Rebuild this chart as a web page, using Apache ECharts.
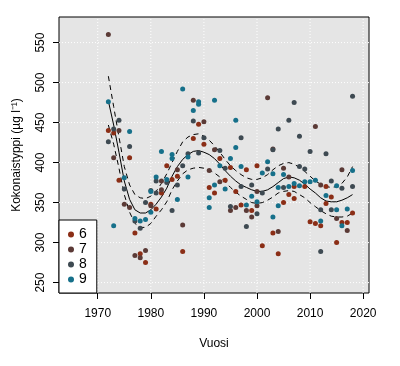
<!DOCTYPE html>
<html>
<head>
<meta charset="utf-8">
<script src="https://cdn.jsdelivr.net/npm/echarts@6/dist/echarts.min.js"></script>
<style>html,body{margin:0;padding:0;background:#fff}#c{width:400px;height:366px}</style>
</head>
<body>
<div id="c"></div>
<script>
// ---- data ----
const xTicks = [1970, 1980, 1990, 2000, 2010, 2020];
const yTicks = [250, 300, 350, 400, 450, 500, 550];

const month6 = [[1972,440],[1973,437],[1974,378],[1976,406],[1977,312],[1978,286],[1979,275],[1980,348],[1981,342],[1982,362],[1983,396],[1984,379],[1985,383],[1986,289],[1988,430],[1989,448],[1990,423],[1991,369],[1992,362],[1993,405],[1994,378],[1995,394],[1996,364],[1997,347],[1998,391],[1999,340],[2000,396],[2001,296],[2003,312],[2004,286],[2005,350],[2006,360],[2007,355],[2007,370],[2009,370],[2010,326],[2011,324],[2012,321],[2013,349],[2013,370],[2014,357],[2015,300],[2016,325],[2017,325],[2018,337]];
const month7 = [[1972,560],[1973,406],[1974,440],[1975,348],[1976,344],[1977,284],[1978,281],[1979,290],[1980,346],[1982,366],[1982,377],[1985,391],[1986,322],[1988,478],[1990,451],[1991,390],[1992,416],[1993,376],[1995,340],[1996,344],[1998,340],[1999,332],[2000,364],[2000,346],[2002,481],[2003,417],[2004,314],[2005,393],[2006,382],[2011,445],[2012,372],[2015,330],[2016,391],[2017,315]];
const month8 = [[1972,426],[1973,442],[1974,453],[1975,367],[1976,420],[1977,327],[1978,318],[1979,350],[1980,365],[1981,362],[1981,377],[1983,375],[1984,340],[1985,372],[1986,396],[1987,411],[1988,452],[1989,412],[1990,431],[1993,415],[1994,393],[1995,345],[1997,431],[1997,370],[1998,320],[1999,372],[2000,336],[2001,362],[2002,392],[2003,416],[2004,442],[2005,369],[2006,453],[2007,475],[2008,433],[2008,395],[2009,392],[2010,414],[2012,341],[2012,289],[2013,411],[2014,377],[2014,341],[2016,368],[2018,483],[2018,370]];
const month9 = [[1972,476],[1973,321],[1975,381],[1976,439],[1977,330],[1978,327],[1979,329],[1980,338],[1980,364],[1981,382],[1982,414],[1983,379],[1984,410],[1984,405],[1985,354],[1986,492],[1987,407],[1987,382],[1988,465],[1989,476],[1989,473],[1991,356],[1991,344],[1992,478],[1992,372],[1993,396],[1994,367],[1995,405],[1996,453],[1996,419],[1997,395],[1998,347],[1999,358],[2000,351],[2001,387],[2002,401],[2003,386],[2003,332],[2004,369],[2004,346],[2005,385],[2006,370],[2007,374],[2008,371],[2009,376],[2010,376],[2011,378],[2012,327],[2013,359],[2015,371],[2015,341],[2016,321],[2017,342],[2018,390]];

const fitYears = [1972,1973,1974,1975,1976,1977,1978,1979,1980,1981,1982,1983,1984,1985,1986,1987,1988,1989,1990,1991,1992,1993,1994,1995,1996,1997,1998,1999,2000,2001,2002,2003,2004,2005,2006,2007,2008,2009,2010,2011,2012,2013,2014,2015,2016,2017,2018];
const fitMid   = [477,447,413,377,354,341,337,337,341,348,357,368,383,395,404,410,414,415,413,410,405,398,390,383,377,372,369,366,364,364,366,370,375,380,382,381,378,373,367,362,356,352,351,351,353,356,360];
const fitUpper = [508,470,432,395,372,360,356,355,358,364,374,386,400,414,426,432,435,436,433,428,421,413,404,396,390,385,381,379,379,381,385,391,396,399,400,398,394,389,383,377,373,370,369,370,374,382,395];
const fitLower = [447,423,393,360,338,324,319,319,324,333,341,351,366,377,386,391,393,394,393,391,387,382,376,369,363,358,354,350,349,350,353,357,362,364,365,364,360,356,350,345,340,336,333,332,332,333,337];

const monthNames = ['6','7','8','9'];
const monthColors = ['#8B2E16','#5B3A36','#3E4A52','#16708A'];

// ---- chart ----
const font = 'Liberation Sans, Arial, sans-serif';
const xMin = 1962.7, xMax = 2021.1, yMin = 237, yMax = 582;
const zip = (a, b) => a.map((v, i) => [v, b[i]]);
const chart = echarts.init(document.getElementById('c'), null, {renderer: 'canvas'});

const gridStyle = {color: '#fff', type: [1, 2], width: 1};
const gridSeries = xTicks.map(v => [[v, yMin], [v, yMax]])
  .concat(yTicks.map(v => [[xMin, v], [xMax, v]]))
  .map(d => ({type: 'line', data: d, showSymbol: false, symbol: 'none', silent: true, z: 1,
    lineStyle: gridStyle}));

const scatterSeries = [month6, month7, month8, month9].map((d, i) => ({
  name: monthNames[i], type: 'scatter', data: d, symbolSize: 5, z: 4,
  itemStyle: {color: monthColors[i], opacity: 1}
}));

const lineSeries = [
  {data: zip(fitYears, fitMid), type: 'solid'},
  {data: zip(fitYears, fitUpper), type: [5, 4]},
  {data: zip(fitYears, fitLower), type: [5, 4]}
].map(s => ({
  type: 'line', data: s.data, showSymbol: false, symbol: 'none', z: 3, silent: true,
  lineStyle: {color: '#000', width: 1, type: s.type}
}));

const plain = v => String(v);

chart.setOption({
  animation: false,
  backgroundColor: '#fff',
  grid: {left: 59, top: 17, width: 310, height: 276, show: true, backgroundColor: '#E5E5E5', borderColor: '#000', borderWidth: 1},
  xAxis: {
    type: 'value', min: xMin, max: xMax,
    name: 'Vuosi', nameLocation: 'middle', nameGap: 45,
    nameTextStyle: {fontFamily: font, fontSize: 12, color: '#000'},
    axisLine: {show: false},
    axisTick: {show: true, customValues: xTicks, length: 6, lineStyle: {color: '#000'}},
    axisLabel: {customValues: xTicks, formatter: plain, margin: 15, fontFamily: font, fontSize: 12, color: '#000'},
    splitLine: {show: false}
  },
  yAxis: {
    type: 'value', min: yMin, max: yMax,
    name: 'Kokonaistyppi (µg l⁻¹)', nameLocation: 'middle', nameGap: 36,
    nameTextStyle: {fontFamily: font, fontSize: 12, color: '#000'},
    axisLine: {show: false},
    axisTick: {show: true, customValues: yTicks, length: 6, lineStyle: {color: '#000'}},
    axisLabel: {customValues: yTicks, formatter: plain, rotate: 90, margin: 12, fontFamily: font, fontSize: 12, color: '#000'},
    splitLine: {show: false}
  },
  legend: {
    data: monthNames, orient: 'vertical', left: 59, top: 220, z: 10,
    backgroundColor: '#fff', borderColor: '#000', borderWidth: 1, borderRadius: 0,
    padding: [7, 10, 6, 9], itemGap: 0, itemWidth: 6, itemHeight: 6, icon: 'circle',
    textStyle: {fontFamily: font, fontSize: 14, color: '#000', lineHeight: 15}
  },
  series: gridSeries.concat(lineSeries, scatterSeries)
});
</script>
</body>
</html>
